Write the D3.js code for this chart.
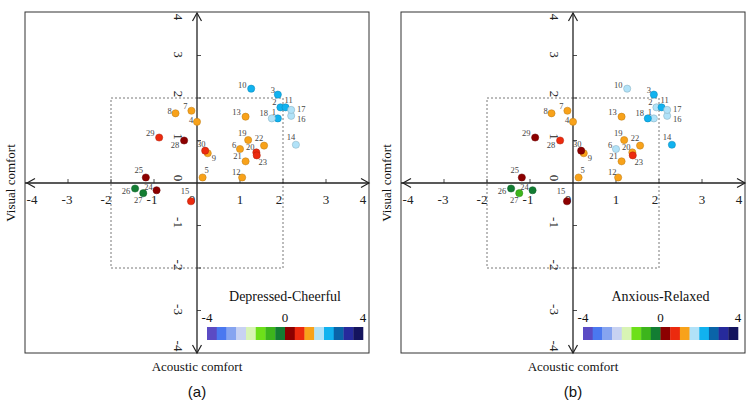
<!DOCTYPE html>
<html><head><meta charset="utf-8">
<script src="https://cdn.jsdelivr.net/npm/d3@7/dist/d3.min.js"></script>
<style>
body{margin:0;background:#fff;}
svg text{font-family:"Liberation Serif","Times New Roman",serif;}
</style></head>
<body><svg id="c" width="754" height="406"></svg>
<script>
// ---- data ----
const pointIds = [1,2,3,4,5,6,7,8,9,10,11,12,13,14,15,16,17,18,19,20,21,22,23,24,25,26,27,28,29,30];
const acoustic = [1.88,1.94,1.88,0.0,0.13,1.0,-0.13,-0.50,0.25,1.26,2.06,1.05,1.13,2.30,-0.14,2.19,2.19,1.74,1.19,1.38,1.13,1.56,1.39,-0.94,-1.19,-1.44,-1.25,-0.30,-0.88,0.19];
const visual   = [1.52,1.78,2.08,1.44,0.13,0.80,1.70,1.64,0.70,2.22,1.78,0.13,1.56,0.90,-0.43,1.58,1.72,1.52,1.01,0.72,0.51,0.88,0.65,-0.17,0.13,-0.13,-0.24,1.00,1.07,0.76];
const cheerful = [2.25,2.25,2.25,1.25,1.25,1.25,1.25,1.25,1.25,2.25,2.25,1.25,1.25,1.75,0.75,1.75,1.75,1.75,1.25,0.75,1.25,1.25,0.75,0.25,0.25,-0.25,-0.25,0.25,0.75,0.75];
const relaxed  = [1.75,1.75,2.25,1.25,1.25,1.75,1.25,1.25,1.25,1.75,2.25,1.25,1.25,2.25,0.25,1.75,1.75,2.25,1.25,1.25,1.25,1.25,0.75,-0.25,0.25,-0.25,-0.75,0.75,0.25,0.25];
const axisTicks = [-4,-3,-2,-1,0,1,2,3,4];
const colorTicks = [-4,0,4];
const colorSteps = [-4,-3.5,-3,-2.5,-2,-1.5,-1,-0.5,0,0.5,1,1.5,2,2.5,3,3.5,4];
const colorList = ["#5b4bc4","#4a78f0","#86a4f0","#c8d2f2","#d8f4b4","#6de019","#3db51c","#137d33","#8c0000","#ec2a0e","#f8a21a","#b1e2f8","#11b2ef","#0a64a8","#262a9c","#14145e"];
const panels = [
  {title:"Depressed-Cheerful", values:cheerful, tag:"(a)"},
  {title:"Anxious-Relaxed", values:relaxed, tag:"(b)"}
];

// ---- layout ----
const labelOff = {1:[-4,-6],2:[-6,-5],3:[-5,-5],4:[-6,-2],5:[4,-7],6:[-6,-4],7:[-6,-5],8:[-6,-2],9:[6,5],10:[-9,-4],
 11:[3,-7],12:[-6,-5],13:[-9,-5],14:[-5,-8],15:[-6,-10],16:[10,3],17:[10,-1],18:[-8,-5],19:[-6,-7],20:[-6,-5],
 21:[-8,-5],22:[-5,-8],23:[6,7],24:[-8,-3],25:[-7,-7],26:[-9,2],27:[-5,7],28:[-9,4],29:[-9,-5],30:[-4,-7]};
const xTickDx = {"-4":7,"-3":-1,"-2":-5,"-1":-2,"0":-5,"1":0,"2":-4,"3":0,"4":-6};
const yTickDy = {"-4":-7,"-3":-1,"-2":-3,"-1":-3,"0":-5,"1":-4,"2":-4,"3":-1,"4":4};
const panelX = [[25,369],[401,745]];
const legendX = [[207,363],[583,738]];

const svg = d3.select("#c");
const colorScale = d3.scaleThreshold().domain(colorSteps.slice(1,-1)).range(colorList);

panels.forEach((p,pi)=>{
  const g = svg.append("g");
  const x = d3.scaleLinear().domain([-4,4]).range(panelX[pi]);
  const y = d3.scaleLinear().domain([-4,4]).range([353,13]);
  const x0 = x(0), y0 = y(0);
  const ink = "#222";
  g.append("rect").attr("x",x(-4)).attr("y",y(4)-1).attr("width",x(4)-x(-4)).attr("height",y(-4)-y(4)+1)
    .attr("fill","none").attr("stroke","#333").attr("stroke-width",1);
  g.append("rect").attr("x",x(-2)).attr("y",y(2)).attr("width",x(2)-x(-2)).attr("height",y(-2)-y(2))
    .attr("fill","none").attr("stroke","#555").attr("stroke-width",0.8).attr("stroke-dasharray","2,2");
  g.append("line").attr("x1",x(-4)).attr("x2",x(4)).attr("y1",y0).attr("y2",y0).attr("stroke",ink).attr("stroke-width",1.3);
  g.append("line").attr("x1",x0).attr("x2",x0).attr("y1",y(4)).attr("y2",y(-4)).attr("stroke",ink).attr("stroke-width",1.3);
  const ah = 8, aw = 4.5;
  const arrows = [
    [[x(-4)+2+ah,y0-aw],[x(-4)+2,y0],[x(-4)+2+ah,y0+aw]],
    [[x(4)-ah,y0-aw],[x(4),y0],[x(4)-ah,y0+aw]],
    [[x0-aw,y(4)+ah],[x0,y(4)],[x0+aw,y(4)+ah]],
    [[x0-aw,y(-4)-ah],[x0,y(-4)],[x0+aw,y(-4)-ah]]
  ];
  arrows.forEach(a=>g.append("path").attr("d",d3.line()(a)).attr("fill","none").attr("stroke",ink).attr("stroke-width",1.2));
  axisTicks.filter(t=>Math.abs(t)<4 && t!==0).forEach(t=>{
    g.append("line").attr("x1",x(t)).attr("x2",x(t)).attr("y1",y0-4).attr("y2",y0).attr("stroke",ink).attr("stroke-width",0.8);
    g.append("line").attr("x1",x0).attr("x2",x0+4).attr("y1",y(t)).attr("y2",y(t)).attr("stroke",ink).attr("stroke-width",0.8);
  });
  axisTicks.forEach(t=>{
    g.append("text").attr("x",x(t)+xTickDx[t]).attr("y",y0+21).attr("text-anchor","middle")
      .attr("font-size",13).attr("fill","#222").text(t);
    const ty = y(t)+yTickDy[t];
    g.append("text").attr("transform",`translate(${x0-19},${ty}) rotate(90)`).attr("text-anchor","middle")
      .attr("dominant-baseline","central").attr("font-size",13).attr("fill","#222").text(t);
  });
  g.append("text").attr("x",x0).attr("y",371).attr("text-anchor","middle").attr("font-size",13).attr("fill","#111").text("Acoustic comfort");
  g.append("text").attr("transform",`translate(${x(-4)-10},${y0}) rotate(-90)`).attr("text-anchor","middle")
    .attr("font-size",13).attr("fill","#111").text("Visual comfort");
  g.append("text").attr("x",x0).attr("y",397).attr("text-anchor","middle").attr("font-size",15)
    .style("font-family","'Liberation Sans',Arial,sans-serif").attr("fill","#111").text(p.tag);
  const data = pointIds.map((id,i)=>({id, ax:acoustic[i], vi:visual[i], v:p.values[i]}));
  g.selectAll("circle.pt").data(data).enter().append("circle").attr("class","pt")
    .attr("cx",d=>x(d.ax)).attr("cy",d=>y(d.vi)).attr("r",3.6)
    .attr("fill",d=>colorScale(d.v)).attr("stroke",d=>d3.color(colorScale(d.v)).darker(0.8)).attr("stroke-width",0.5);
  g.selectAll("text.lab").data(data).enter().append("text").attr("class","lab")
    .attr("x",d=>x(d.ax)+labelOff[d.id][0]).attr("y",d=>y(d.vi)+labelOff[d.id][1])
    .attr("text-anchor","middle").attr("dominant-baseline","central").attr("font-size",8.5).attr("fill","#444").text(d=>d.id);
  const lx = d3.scaleLinear().domain([-4,4]).range(legendX[pi]);
  const lg = g.append("g");
  lg.append("text").attr("x",(legendX[pi][0]+legendX[pi][1])/2).attr("y",301).attr("text-anchor","middle")
    .attr("font-size",14).attr("fill","#111").text(p.title);
  colorList.forEach((c,i)=>{
    lg.append("rect").attr("x",lx(colorSteps[i])).attr("y",327).attr("width",lx(colorSteps[i+1])-lx(colorSteps[i])+0.3)
      .attr("height",13).attr("fill",c);
  });
  colorTicks.forEach(t=>{
    lg.append("text").attr("x",lx(t)).attr("y",322).attr("text-anchor","middle").attr("font-size",13).attr("fill","#111").text(t);
  });
});
</script></body></html>
